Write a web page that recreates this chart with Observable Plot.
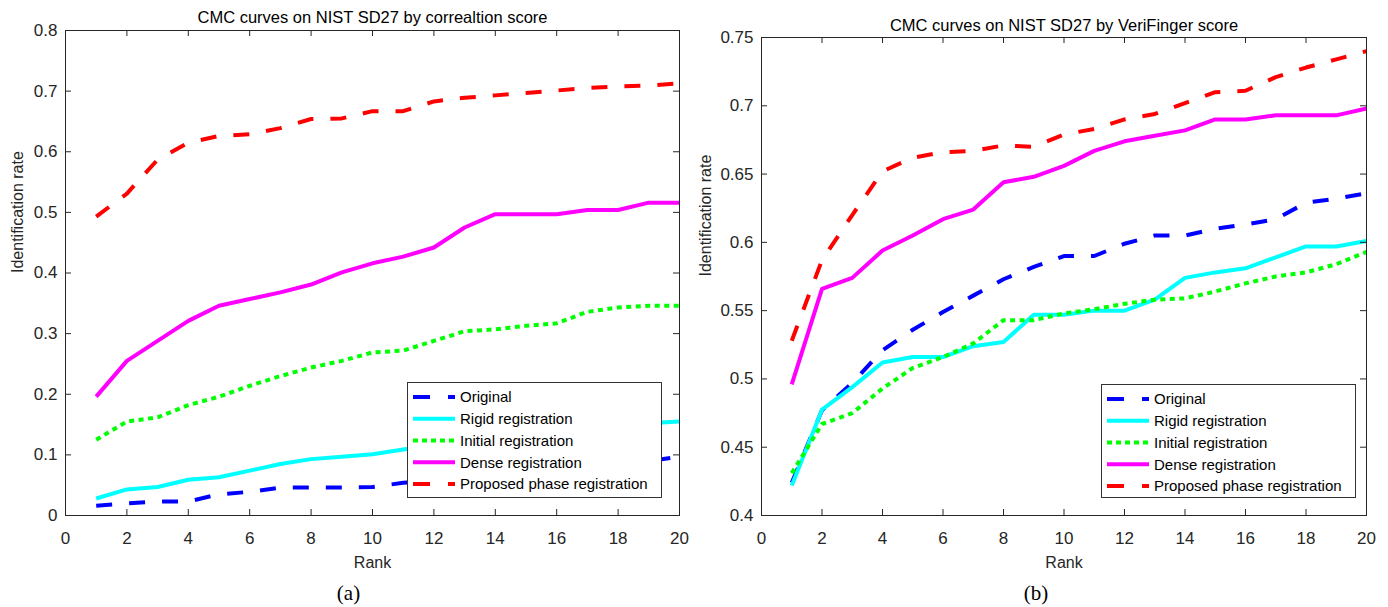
<!DOCTYPE html>
<html><head><meta charset="utf-8">
<script src="https://cdn.jsdelivr.net/npm/d3@7"></script>
<script src="https://cdn.jsdelivr.net/npm/@observablehq/plot@0.6"></script>
<style>
body{margin:0;background:#fff;}
#wrap{position:relative;width:1388px;height:607px;overflow:hidden;background:#fff;}
#wrap svg{position:absolute;top:0;}
</style></head><body><div id="wrap"></div>
<script>
// ---------- data ----------
const rank = [1,2,3,4,5,6,7,8,9,10,11,12,13,14,15,16,17,18,19,20];
const seriesNames = ["Original","Rigid registration","Initial registration","Dense registration","Proposed phase registration"];
const seriesColors = ["#0000ff","#00ffff","#00ff00","#ff00ff","#ff0000"];
const seriesDash = ["16,17", null, "5,4.5", null, "16,17"];

const xTicks = [0,2,4,6,8,10,12,14,16,18,20];
const leftYTicks = [0,0.1,0.2,0.3,0.4,0.5,0.6,0.7,0.8];
const rightYTicks = [0.4,0.45,0.5,0.55,0.6,0.65,0.7,0.75];

// (a) correlation score
const leftOriginal = [0.016,0.020,0.023,0.023,0.035,0.039,0.046,0.046,0.046,0.047,0.054,0.058,0.062,0.066,0.070,0.074,0.078,0.085,0.090,0.097];
const leftRigid    = [0.028,0.043,0.047,0.059,0.063,0.074,0.085,0.093,0.097,0.101,0.109,0.116,0.122,0.128,0.133,0.138,0.143,0.147,0.152,0.155];
const leftInitial  = [0.125,0.155,0.162,0.182,0.196,0.214,0.230,0.244,0.255,0.269,0.272,0.288,0.304,0.307,0.313,0.317,0.336,0.343,0.346,0.346];
const leftDense    = [0.196,0.255,0.288,0.321,0.346,0.357,0.368,0.381,0.401,0.416,0.427,0.442,0.475,0.497,0.497,0.497,0.504,0.504,0.516,0.516];
const leftProposed = [0.493,0.531,0.587,0.615,0.626,0.629,0.639,0.654,0.655,0.667,0.667,0.683,0.689,0.693,0.697,0.701,0.705,0.708,0.709,0.713];

// (b) VeriFinger score
const rightOriginal = [0.424,0.477,0.497,0.521,0.536,0.549,0.561,0.573,0.582,0.590,0.590,0.599,0.605,0.605,0.610,0.613,0.617,0.629,0.632,0.636];
const rightRigid    = [0.422,0.4775,0.494,0.512,0.516,0.516,0.524,0.527,0.547,0.547,0.550,0.550,0.558,0.574,0.578,0.581,0.589,0.597,0.597,0.601];
const rightInitial  = [0.431,0.467,0.475,0.493,0.508,0.516,0.526,0.543,0.543,0.548,0.551,0.555,0.558,0.559,0.564,0.570,0.575,0.578,0.584,0.593];
const rightDense    = [0.496,0.566,0.574,0.594,0.605,0.617,0.624,0.644,0.648,0.656,0.667,0.674,0.678,0.682,0.690,0.690,0.693,0.693,0.693,0.698];
const rightProposed = [0.528,0.587,0.620,0.652,0.662,0.666,0.667,0.671,0.670,0.679,0.683,0.690,0.694,0.702,0.710,0.711,0.721,0.728,0.734,0.740];

// ---------- drawing ----------
const AX = "#262626";
const SANS = "'Liberation Sans', Arial, Helvetica, sans-serif";
const fmt = d => String(+d.toFixed(2));

function panel(cfg) {
  const W = 694, H = 607;
  const innerW = W - cfg.ml - cfg.mr, innerH = H - cfg.mt - cfg.mb;
  const [y0, y1] = cfg.yDomain;
  const tick = 6;
  const dyT = (y1 - y0) * tick / innerH;
  const dxT = 20 * tick / innerW;
  const marks = [];
  cfg.values.forEach((vals, i) => {
    const rows = rank.map((r, j) => ({rank: r, value: vals[j]}));
    const opts = {x: "rank", y: "value", stroke: seriesColors[i], strokeWidth: 4,
      strokeLinecap: "butt", strokeLinejoin: "round"};
    if (seriesDash[i]) opts.strokeDasharray = seriesDash[i];
    marks.push(Plot.line(rows, opts));
  });
  // inward ticks on all four sides
  const innerX = xTicks.filter(d => d > 0 && d < 20);
  const innerY = cfg.yTicks.filter(d => d > y0 && d < y1);
  marks.push(Plot.ruleX(innerX, {x: d => d, y1: y0, y2: y0 + dyT, stroke: AX}));
  marks.push(Plot.ruleX(innerX, {x: d => d, y1: y1, y2: y1 - dyT, stroke: AX}));
  marks.push(Plot.ruleY(innerY, {y: d => d, x1: 0, x2: dxT, stroke: AX}));
  marks.push(Plot.ruleY(innerY, {y: d => d, x1: 20, x2: 20 - dxT, stroke: AX}));
  marks.push(Plot.frame({stroke: AX, strokeWidth: 1}));
  marks.push(Plot.axisX(xTicks, {anchor: "bottom", tickSize: 0, tickPadding: 16, fontSize: 17, fill: AX, label: null, tickFormat: d => String(d)}));
  marks.push(Plot.axisY(cfg.yTicks, {anchor: "left", tickSize: 0, tickPadding: 8, fontSize: 17, fill: AX, label: null, tickFormat: fmt}));
  marks.push(Plot.text([cfg.title], {text: d => d, frameAnchor: "top", lineAnchor: "bottom", dy: cfg.titleDy, fontSize: 16.5, fill: "#000"}));
  marks.push(Plot.text(["Rank"], {text: d => d, frameAnchor: "bottom", lineAnchor: "bottom", dy: 52, fontSize: 16, fill: AX}));
  marks.push(Plot.text(["Identification rate"], {text: d => d, frameAnchor: "left", rotate: -90, lineAnchor: "middle", dx: cfg.ylabDx, fontSize: 16, fill: AX}));
  marks.push(Plot.text([cfg.tag], {text: d => d, frameAnchor: "bottom", lineAnchor: "bottom", dx: cfg.tagDx, dy: 84, fontSize: 21, fontFamily: "'Liberation Serif', 'Times New Roman', serif", fill: "#000"}));

  const svg = Plot.plot({
    width: W, height: H,
    marginLeft: cfg.ml, marginRight: cfg.mr, marginTop: cfg.mt, marginBottom: cfg.mb,
    x: {domain: [0, 20], axis: null},
    y: {domain: cfg.yDomain, axis: null},
    style: {fontFamily: SANS, background: "transparent", overflow: "visible"},
    marks
  });
  svg.style.left = cfg.left + "px";

  // legend (box in the lower right of the axes)
  const g = d3.select(svg).append("g").attr("class", "legend").attr("text-anchor", "start");
  const L = cfg.legend;
  g.append("rect").attr("x", L.x + 0.5).attr("y", L.y + 0.5).attr("width", L.w).attr("height", L.h)
    .attr("fill", "#fff").attr("stroke", "#333").attr("stroke-width", 1);
  seriesNames.forEach((name, i) => {
    const cy = L.y + 15 + i * 21.75;
    const ln = g.append("line").attr("x1", L.x + 6).attr("x2", L.x + 48).attr("y1", cy).attr("y2", cy)
      .attr("stroke", seriesColors[i]).attr("stroke-width", 4).attr("stroke-linecap", "butt");
    if (seriesDash[i]) ln.attr("stroke-dasharray", i === 2 ? "5,4" : "17,18");
    g.append("text").attr("x", L.x + 53).attr("y", cy).attr("dy", "0.35em")
      .attr("text-anchor", "start")
      .attr("font-size", 15).attr("font-family", SANS).attr("fill", "#000").text(name);
  });
  return svg;
}

const wrap = document.getElementById("wrap");
wrap.appendChild(panel({
  left: 0, ml: 65, mr: 15, mt: 30, mb: 92,
  yDomain: [0, 0.8], yTicks: leftYTicks,
  values: [leftOriginal, leftRigid, leftInitial, leftDense, leftProposed],
  title: "CMC curves on NIST SD27 by correaltion score", titleDy: -8,
  ylabDx: -48, tag: "(a)", tagDx: -24,
  legend: {x: 407, y: 382, w: 254, h: 115}
}));
wrap.appendChild(panel({
  left: 694, ml: 67, mr: 22, mt: 37, mb: 92,
  yDomain: [0.4, 0.75], yTicks: rightYTicks,
  values: [rightOriginal, rightRigid, rightInitial, rightDense, rightProposed],
  title: "CMC curves on NIST SD27 by VeriFinger score", titleDy: -7,
  ylabDx: -56, tag: "(b)", tagDx: -28,
  legend: {x: 407, y: 384, w: 254, h: 113}
}));
</script></body></html>
